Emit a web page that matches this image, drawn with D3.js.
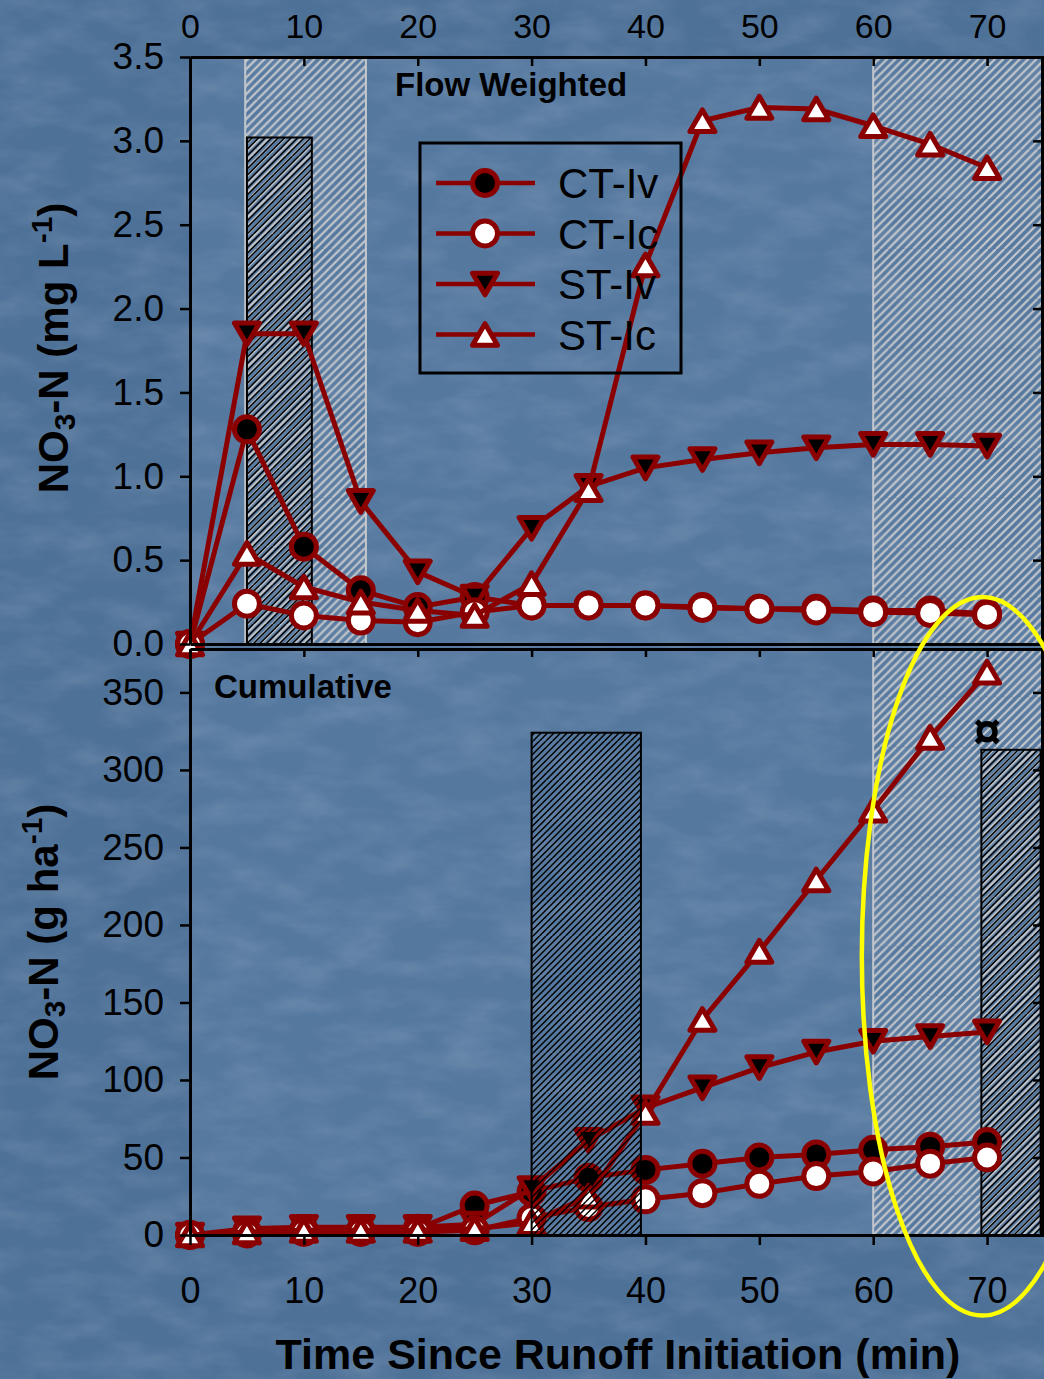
<!DOCTYPE html>
<html>
<head>
<meta charset="utf-8">
<script src="https://cdnjs.cloudflare.com/ajax/libs/d3/7.8.5/d3.min.js"></script>
<style>
html, body { margin: 0; padding: 0; background: #4f7199; }
svg { display: block; font-family: "Liberation Sans", Arial, sans-serif; }
</style>
</head>
<body>
<svg id="chart" width="1044" height="1379"></svg>
<script>
'use strict';

// sampling times (min)
var times = [0, 5, 10, 15, 20, 25, 30, 35, 40, 45, 50, 55, 60, 65, 70];

// flow weighted NO3-N (mg L-1)
var flowCTIv = [0, 1.28, 0.58, 0.32, 0.22, 0.28, 0.23, 0.23, 0.23, 0.22, 0.21, 0.21, 0.20, 0.20, 0.18];
var flowCTIc = [0, 0.24, 0.17, 0.14, 0.13, 0.19, 0.23, 0.23, 0.23, 0.215, 0.21, 0.20, 0.19, 0.185, 0.175];
var flowSTIv = [0, 1.85, 1.85, 0.85, 0.43, 0.28, 0.69, 0.94, 1.05, 1.10, 1.14, 1.17, 1.19, 1.19, 1.18];
var flowSTIc = [0, 0.54, 0.34, 0.25, 0.20, 0.17, 0.36, 0.92, 2.26, 3.12, 3.20, 3.19, 3.09, 2.98, 2.84];

// cumulative NO3-N (g ha-1)
var cumCTIv = [0, 2, 3, 3, 4, 19, 28, 37, 42, 46, 50, 52, 55, 57, 60];
var cumCTIc = [0, 1, 2, 2, 2, 3, 11, 18, 23, 27, 33, 38, 41, 46, 50];
var cumSTIv = [0, 4, 5, 5, 5, 7, 30, 61, 82, 95, 108, 118, 125, 128, 131];
var cumSTIc = [0, 2, 3, 3, 3, 4, 8, 25, 79, 139, 183, 229, 274, 321, 363];

// shaded periods (min)
var flowShadeStart = [4.85, 60];
var flowShadeEnd = [15.45, 75];
var cumShadeStart = [60];
var cumShadeEnd = [75];

// hatched bars: start, end (min) and height
var flowBarStart = [5.0];
var flowBarEnd = [10.7];
var flowBarValue = [3.02];
var cumBarStart = [30, 69.5];
var cumBarEnd = [39.6, 74.7];
var cumBarValue = [324, 313];

var xTicks = [0, 10, 20, 30, 40, 50, 60, 70];
var flowTicks = [0, 0.5, 1.0, 1.5, 2.0, 2.5, 3.0, 3.5];
var cumTicks = [0, 50, 100, 150, 200, 250, 300, 350];

var RED = '#8a0000';

var series = [
  {name: 'CT-Iv', shape: 'circle', fill: '#000', flow: flowCTIv, cum: cumCTIv},
  {name: 'ST-Iv', shape: 'down', fill: '#000', flow: flowSTIv, cum: cumSTIv},
  {name: 'CT-Ic', shape: 'circle', fill: '#fff', flow: flowCTIc, cum: cumCTIc},
  {name: 'ST-Ic', shape: 'up', fill: '#fff', flow: flowSTIc, cum: cumSTIc}
];
var legendOrder = ['CT-Iv', 'CT-Ic', 'ST-Iv', 'ST-Ic'];

var svg = d3.select('#chart');
var W = 1044, H = 1379;

// scales
var x = d3.scaleLinear().domain([0, 75]).range([190, 1044]);
var yTop = d3.scaleLinear().domain([0, 3.5]).range([644, 57]);
var yBot = d3.scaleLinear().domain([0, 378]).range([1235, 649]);

// ---- defs: background texture and hatch patterns
var defs = svg.append('defs');

var tex = defs.append('filter').attr('id', 'tex')
  .attr('x', 0).attr('y', 0).attr('width', '100%').attr('height', '100%');
tex.append('feTurbulence')
  .attr('type', 'fractalNoise')
  .attr('baseFrequency', '0.018 0.04')
  .attr('numOctaves', 4)
  .attr('seed', 7);
tex.append('feColorMatrix')
  .attr('type', 'matrix')
  .attr('values', '0 0 0 0 1  0 0 0 0 1  0 0 0 0 1  0.22 0 0 0 -0.085');

// diagonal "/" hatch, drawn as plain segments so the lines stay crisp
function hatch(id, step, color, width) {
  var size = step * 6;
  var p = defs.append('pattern')
    .attr('id', id)
    .attr('patternUnits', 'userSpaceOnUse')
    .attr('width', size)
    .attr('height', size);
  var offs = d3.range(-size, size * 2 + 1, step);
  p.selectAll('line')
    .data(offs)
    .enter()
    .append('line')
    .attr('x1', function(d) { return d; })
    .attr('y1', size)
    .attr('x2', function(d) { return d + size; })
    .attr('y2', 0)
    .attr('stroke', color)
    .attr('stroke-width', width);
}
hatch('hatchLight', 8.3, '#c3c6ca', 2.2);
hatch('hatchDark', 6.5, '#000', 1.5);

// ---- background
svg.append('rect').attr('width', W).attr('height', H).attr('fill', '#4e7198');
svg.append('rect')
  .attr('x', x(0)).attr('y', yTop(3.5))
  .attr('width', W - x(0)).attr('height', yBot(0) - yTop(3.5))
  .attr('fill', '#55789f');
svg.append('rect').attr('width', W).attr('height', H)
  .attr('filter', 'url(#tex)');

// ---- helpers
function markerPath(shape) {
  if (shape === 'circle') {
    return d3.symbol(d3.symbolCircle, Math.PI * 12.5 * 12.5)();
  }
  var s = 25, h = s * Math.sqrt(3) / 2;
  if (shape === 'up') {
    return 'M0,' + (-h / 2) + 'L' + (s / 2) + ',' + (h / 2) + 'L' + (-s / 2) + ',' + (h / 2) + 'Z';
  }
  return 'M0,' + (h / 2) + 'L' + (s / 2) + ',' + (-h / 2) + 'L' + (-s / 2) + ',' + (-h / 2) + 'Z';
}

function drawShades(g, starts, ends, y) {
  g.selectAll('rect.shade')
    .data(starts)
    .enter()
    .append('rect')
    .attr('class', 'shade')
    .attr('x', function(d) { return x(d); })
    .attr('y', y.range()[1])
    .attr('width', function(d, i) { return x(ends[i]) - x(d); })
    .attr('height', y.range()[0] - y.range()[1])
    .attr('fill', 'url(#hatchLight)')
    .attr('stroke', '#c4c8cc')
    .attr('stroke-width', 2);
}

function drawBars(g, starts, ends, values, y) {
  g.selectAll(null)
    .data(starts)
    .enter()
    .append('rect')
    .attr('x', function(d) { return x(d); })
    .attr('y', function(d, i) { return y(values[i]); })
    .attr('width', function(d, i) { return x(ends[i]) - x(d); })
    .attr('height', function(d, i) { return y(0) - y(values[i]); })
    .attr('fill', 'url(#hatchDark)')
    .attr('stroke', '#000')
    .attr('stroke-width', 2);
}

function drawSeries(g, key, y) {
  series.forEach(function(s) {
    var pts = times.map(function(t, i) { return [t, s[key][i]]; });
    var line = d3.line()
      .x(function(d) { return x(d[0]); })
      .y(function(d) { return y(d[1]); });
    g.append('path')
      .attr('d', line(pts))
      .attr('fill', 'none')
      .attr('stroke', RED)
      .attr('stroke-width', 5)
      .attr('stroke-linejoin', 'round');
    g.selectAll(null)
      .data(pts)
      .enter()
      .append('path')
      .attr('d', markerPath(s.shape))
      .attr('transform', function(d) { return 'translate(' + x(d[0]) + ',' + y(d[1]) + ')'; })
      .attr('fill', s.fill)
      .attr('stroke', RED)
      .attr('stroke-width', 5)
      .attr('stroke-linejoin', 'round');
  });
}

function styleAxis(g, fontSize) {
  g.select('.domain').attr('stroke', '#000').attr('stroke-width', 3);
  g.selectAll('.tick line').attr('stroke', '#000').attr('stroke-width', 2.5);
  g.selectAll('.tick text')
    .attr('fill', '#000')
    .style('font-size', fontSize + 'px')
    .style('font-family', '"Liberation Sans", Arial, sans-serif');
}

// ---- top panel: flow weighted
var gTop = svg.append('g');
drawShades(gTop, flowShadeStart, flowShadeEnd, yTop);
drawBars(gTop, flowBarStart, flowBarEnd, flowBarValue, yTop);
drawSeries(gTop, 'flow', yTop);

var gTopX = gTop.append('g')
  .attr('transform', 'translate(0,' + yTop(3.5) + ')')
  .call(d3.axisTop(x).tickValues(xTicks).tickSize(-9).tickSizeOuter(0).tickPadding(19));
styleAxis(gTopX, 34);

var gTopY = gTop.append('g')
  .attr('transform', 'translate(' + x(0) + ',0)')
  .call(d3.axisLeft(yTop).tickValues(flowTicks).tickFormat(d3.format('.1f'))
    .tickSize(10).tickSizeOuter(0).tickPadding(16));
styleAxis(gTopY, 37);

var gTopR = gTop.append('g')
  .attr('transform', 'translate(' + (W - 2) + ',0)')
  .call(d3.axisRight(yTop).tickValues(flowTicks).tickFormat('').tickSize(-9).tickSizeOuter(0));
styleAxis(gTopR, 37);

var gTopB = gTop.append('g')
  .attr('transform', 'translate(0,' + yTop(0) + ')')
  .call(d3.axisBottom(x).tickValues([]).tickSizeOuter(0));
styleAxis(gTopB, 34);

gTop.append('text')
  .attr('x', 395).attr('y', 96)
  .style('font-size', '33px').style('font-weight', 'bold')
  .text('Flow Weighted');

// ---- bottom panel: cumulative
var gBot = svg.append('g');
drawShades(gBot, cumShadeStart, cumShadeEnd, yBot);
// the late bar sits under the lines, the 30-40 min bar over them
drawBars(gBot, cumBarStart.slice(1), cumBarEnd.slice(1), cumBarValue.slice(1), yBot);
drawSeries(gBot, 'cum', yBot);
drawBars(gBot.append('g'), cumBarStart.slice(0, 1), cumBarEnd.slice(0, 1), cumBarValue.slice(0, 1), yBot);

var gBotX = gBot.append('g')
  .attr('transform', 'translate(0,' + yBot(0) + ')')
  .call(d3.axisBottom(x).tickValues(xTicks).tickSize(10).tickSizeOuter(0).tickPadding(32));
styleAxis(gBotX, 36);

var gBotT = gBot.append('g')
  .attr('transform', 'translate(0,' + yBot.range()[1] + ')')
  .call(d3.axisTop(x).tickValues(xTicks).tickFormat('').tickSize(-8).tickSizeOuter(0));
styleAxis(gBotT, 34);

var gBotY = gBot.append('g')
  .attr('transform', 'translate(' + x(0) + ',0)')
  .call(d3.axisLeft(yBot).tickValues(cumTicks).tickSize(10).tickSizeOuter(0).tickPadding(16));
styleAxis(gBotY, 37);

var gBotR = gBot.append('g')
  .attr('transform', 'translate(' + (W - 2) + ',0)')
  .call(d3.axisRight(yBot).tickValues(cumTicks).tickFormat('').tickSize(-9).tickSizeOuter(0));
styleAxis(gBotR, 37);

gBot.append('text')
  .attr('x', 214).attr('y', 698)
  .style('font-size', '33px').style('font-weight', 'bold')
  .text('Cumulative');

// significance mark over the last bar
gBot.append('text')
  .attr('x', x(70)).attr('y', yBot(325))
  .attr('text-anchor', 'middle')
  .attr('dominant-baseline', 'central')
  .style('font-size', '50px').style('font-weight', 'bold')
  .text('\u00a4');

// ---- legend
var legend = svg.append('g').attr('transform', 'translate(420,143)');
legend.append('rect')
  .attr('width', 261).attr('height', 230)
  .attr('fill', 'none').attr('stroke', '#000').attr('stroke-width', 3);
legendOrder.forEach(function(name, i) {
  var s = series.filter(function(d) { return d.name === name; })[0];
  var row = legend.append('g').attr('transform', 'translate(0,' + (40 + i * 50.5) + ')');
  row.append('line')
    .attr('x1', 16).attr('x2', 115)
    .attr('stroke', RED).attr('stroke-width', 4.5);
  row.append('path')
    .attr('d', markerPath(s.shape))
    .attr('transform', 'translate(65,0)')
    .attr('fill', s.fill)
    .attr('stroke', RED).attr('stroke-width', 5)
    .attr('stroke-linejoin', 'round');
  row.append('text')
    .attr('x', 138).attr('dy', '0.36em')
    .style('font-size', '42px')
    .text(name);
});

// ---- axis titles
function yTitle(tx, ty, unit, sup) {
  var t = svg.append('text')
    .attr('transform', 'translate(' + tx + ',' + ty + ') rotate(-90)')
    .attr('text-anchor', 'middle')
    .style('font-size', '42px').style('font-weight', 'bold');
  t.append('tspan').text('NO');
  t.append('tspan').attr('baseline-shift', '-22%').style('font-size', '30px').text('3');
  t.append('tspan').text('-N (' + unit);
  t.append('tspan').attr('baseline-shift', '55%').style('font-size', '30px').text(sup);
  t.append('tspan').text(')');
}
yTitle(68, 348, 'mg L', '-1');
yTitle(58, 942, 'g ha', '-1');

svg.append('text')
  .attr('x', 618).attr('y', 1369)
  .attr('text-anchor', 'middle')
  .style('font-size', '43px').style('font-weight', 'bold')
  .text('Time Since Runoff Initiation (min)');

// ---- highlight ellipse round the late period
svg.append('ellipse')
  .attr('cx', x(69.6))
  .attr('cy', (yTop(0.28) + yBot(-52)) / 2)
  .attr('rx', x(80.2) - x(69.6))
  .attr('ry', (yBot(-52) - yTop(0.28)) / 2)
  .attr('fill', 'none')
  .attr('stroke', '#ffff00')
  .attr('stroke-width', 4.5);
</script>
</body>
</html>
